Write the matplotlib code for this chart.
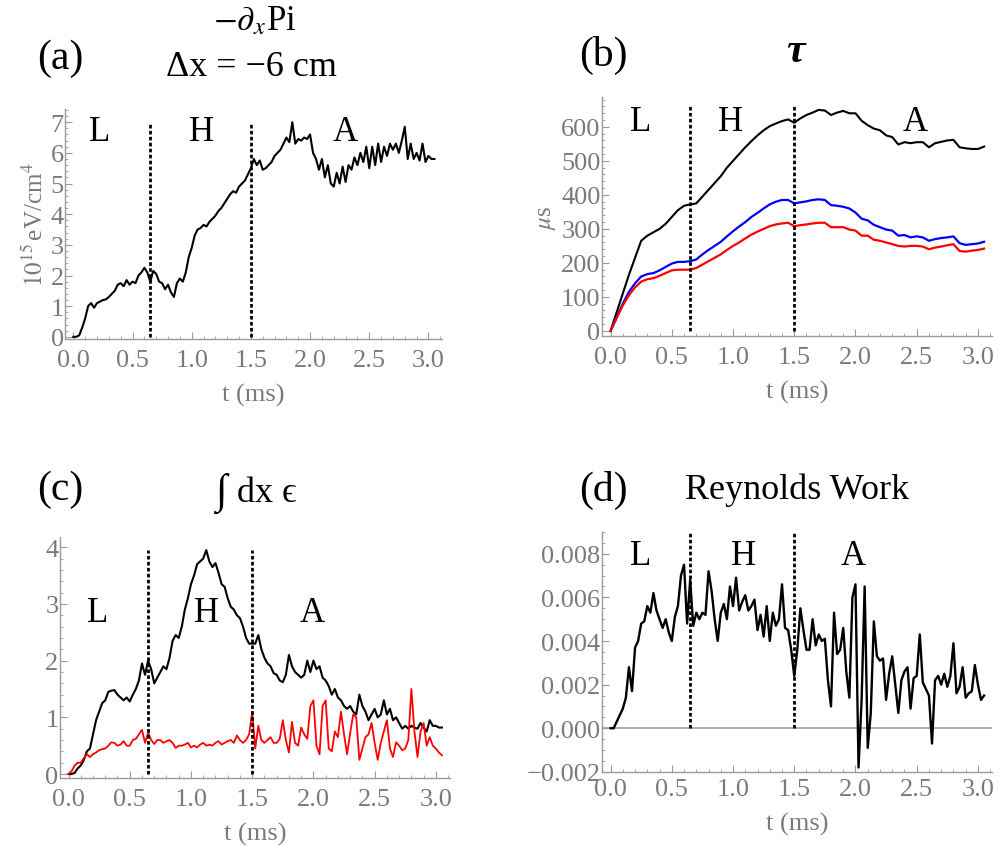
import numpy as np
import matplotlib
matplotlib.use('Agg')
import matplotlib.pyplot as plt
from matplotlib.ticker import MultipleLocator, FormatStrFormatter, FuncFormatter

plt.rcParams['font.family'] = ['Liberation Serif', 'DejaVu Serif']
plt.rcParams['mathtext.fontset'] = 'stix'

dt = 0.025
# L-H and H-A transition times (ms)
transitions = [0.65, 1.5]
regimes = ['L', 'H', 'A']

# (a) -d/dx Pi, 10^15 eV/cm^4
pi_grad = [0.0, 0.0, 0.05, 0.3, 0.6, 1.0, 1.1, 0.95, 1.1, 1.15, 1.2, 1.22, 1.3, 1.4, 1.5, 1.7,
           1.75, 1.65, 1.85, 1.7, 1.8, 1.75, 2.0, 2.1, 2.25, 2.1, 1.8, 2.15, 2.05, 1.8, 1.75, 1.55,
           1.7, 1.45, 1.3, 1.75, 1.9, 1.8, 2.1, 2.6, 2.9, 3.3, 3.5, 3.55, 3.65, 3.6, 3.75, 3.85,
           3.95, 4.1, 4.2, 4.35, 4.5, 4.65, 4.75, 4.7, 4.9, 5.0, 5.1, 5.3, 5.5, 5.8, 5.6, 5.75,
           5.45, 5.5, 5.6, 5.7, 5.9, 6.0, 6.1, 6.3, 6.5, 6.35, 7.0, 6.3, 6.45, 6.4, 6.5, 6.45,
           6.6, 6.0, 5.8, 5.45, 5.8, 5.2, 5.6, 5.0, 4.9, 5.35, 5.0, 5.55, 5.05, 5.6, 5.45, 5.85,
           5.6, 6.0, 5.7, 6.2, 5.5, 6.2, 5.6, 6.3, 5.7, 6.2, 5.9, 6.3, 6.1, 6.3, 6.0, 6.4,
           6.85, 5.8, 6.3, 5.8, 6.0, 5.75, 6.3, 5.7, 5.9, 5.8, 5.8]

# (b) tau, microseconds (sampled every 0.05 ms)
dt_tau = 0.05
tau_black = [0, 55, 110, 165, 215, 265, 280, 290, 300, 315, 335, 355, 368, 372, 375, 395,
             415, 435, 455, 480, 500, 520, 540, 558, 575, 590, 602, 610, 617, 622, 612, 625,
             635, 642, 650, 648, 635, 642, 647, 640, 640, 618, 605, 595, 590, 575, 570, 548,
             555, 552, 555, 555, 540, 552, 556, 560, 562, 540, 537, 535, 535, 542]
tau_blue = [0, 40, 80, 115, 140, 160, 167, 170, 178, 188, 198, 203, 203, 205, 210, 225,
            238, 250, 262, 278, 293, 307, 320, 335, 347, 360, 372, 380, 385, 385, 375, 378,
            381, 385, 387, 385, 370, 368, 365, 360, 348, 330, 325, 312, 305, 298, 295, 280,
            282, 275, 278, 275, 265, 270, 273, 275, 278, 258, 253, 255, 257, 262]
tau_red = [0, 38, 75, 105, 128, 145, 152, 155, 162, 170, 178, 180, 180, 180, 185, 195,
           205, 215, 225, 238, 250, 260, 272, 283, 292, 300, 308, 313, 316, 318, 308, 311,
           313, 316, 318, 318, 305, 305, 305, 298, 295, 280, 280, 268, 265, 260, 255, 250,
           248, 250, 250, 248, 240, 245, 248, 252, 255, 235, 233, 236, 238, 242]

# (c) integral dx epsilon
eps_black = [0.0, 0.0, 0.02, 0.1, 0.15, 0.25, 0.4, 0.45, 0.7, 0.95, 1.1, 1.25, 1.3, 1.45, 1.47, 1.48,
             1.4, 1.35, 1.3, 1.35, 1.28, 1.4, 1.5, 1.65, 1.95, 1.75, 2.0, 1.85, 1.6, 1.7, 1.8, 1.9,
             1.85, 2.05, 2.35, 2.45, 2.4, 2.6, 2.9, 3.1, 3.35, 3.5, 3.7, 3.75, 3.8, 3.95, 3.75, 3.65,
             3.72, 3.55, 3.35, 3.3, 3.1, 2.95, 2.9, 2.8, 2.75, 2.6, 2.4, 2.3, 2.3, 2.3, 2.45, 2.2,
             2.05, 1.95, 1.9, 1.78, 1.75, 1.65, 1.62, 1.75, 2.1, 1.9, 1.8, 1.75, 1.7, 1.75, 2.0, 1.8,
             2.0, 1.85, 1.9, 1.7, 1.65, 1.55, 1.4, 1.5, 1.35, 1.3, 1.2, 1.15, 1.2, 1.1, 1.05, 1.4,
             1.2, 1.1, 0.95, 1.05, 1.15, 1.0, 1.05, 1.3, 1.05, 1.15, 0.95, 1.0, 0.9, 0.8, 0.85, 0.8,
             0.85, 0.82, 0.8, 0.9, 0.82, 0.75, 0.95, 0.85, 0.85, 0.82, 0.82]
eps_red = [0.0, 0.05, 0.15, 0.2, 0.2, 0.28, 0.35, 0.3, 0.35, 0.38, 0.42, 0.44, 0.45, 0.5, 0.56, 0.55,
           0.5, 0.52, 0.58, 0.5, 0.5, 0.6, 0.62, 0.7, 0.78, 0.55, 0.73, 0.6, 0.53, 0.6, 0.6, 0.55,
           0.58, 0.6, 0.55, 0.46, 0.5, 0.5, 0.52, 0.55, 0.47, 0.5, 0.47, 0.52, 0.55, 0.5, 0.52, 0.5,
           0.55, 0.58, 0.52, 0.55, 0.58, 0.6, 0.55, 0.68, 0.6, 0.55, 0.6, 0.7, 1.1, 0.45, 0.85, 0.6,
           0.55, 0.6, 0.65, 0.55, 0.55, 0.62, 0.95, 0.6, 0.38, 0.92, 0.55, 0.5, 0.82, 0.7, 0.62, 1.2,
           1.3, 0.5, 0.35, 1.2, 1.3, 0.45, 0.4, 0.75, 0.65, 1.1, 0.7, 0.35, 0.72, 1.05, 1.0, 0.25,
           0.45, 0.65, 0.7, 0.9, 0.55, 0.25, 0.55, 0.75, 0.95, 0.45, 0.3, 0.56, 0.5, 0.42, 0.45, 0.6,
           1.5, 0.75, 0.3, 0.75, 0.9, 0.5, 0.65, 0.5, 0.45, 0.38, 0.33]

# (d) Reynolds work (x 1e-3)
reynolds = [0.0, 0.0, 0.3, 0.6, 0.9, 1.4, 2.8, 1.7, 3.7, 4.0, 4.8, 4.9, 5.6, 5.3, 6.2, 5.4,
            5.0, 4.6, 5.0, 4.4, 4.0, 5.1, 5.6, 7.0, 7.5, 4.8, 6.8, 4.7, 5.3, 5.0, 5.3, 5.2,
            7.2, 6.3, 5.0, 4.0, 5.3, 5.7, 5.0, 6.5, 5.6, 6.9, 5.4, 5.8, 6.1, 5.4, 5.6, 5.9,
            4.5, 5.2, 4.2, 5.6, 4.0, 5.3, 4.7, 5.0, 6.6, 4.6, 4.5, 3.6, 2.4, 3.6, 5.5, 4.5,
            3.6, 3.6, 5.0, 3.8, 4.3, 4.0, 4.1, 2.2, 1.0, 5.3, 3.4, 3.6, 4.6, 2.6, 1.4, 6.0,
            6.6, -1.8, 1.3, 6.5, -0.9, 0.7, 4.9, 3.3, 3.1, 3.2, 1.3, 2.5, 3.3, 2.0, 0.7, 2.2,
            2.6, 2.8, 0.9, 2.3, 2.4, 4.3, 2.1, 1.8, 1.5, -0.7, 2.2, 2.4, 2.0, 2.5, 1.9, 2.4,
            3.9, 1.6, 1.9, 2.8, 1.4, 1.6, 1.7, 2.9, 2.0, 1.3, 1.5]

GRAY = '#7a7a7a'
SPINE = '#9a9a9a'

fig = plt.figure(figsize=(9.99, 8.54), dpi=100)


def style_axis(ax, ylim, ymajor, yminor, xpad=7):
    ax.set_xlim(-0.07, 3.115)
    ax.set_ylim(*ylim)
    for s in ['top', 'right']:
        ax.spines[s].set_visible(False)
    for s in ['left', 'bottom']:
        ax.spines[s].set_color(SPINE)
        ax.spines[s].set_linewidth(1.0)
    ax.xaxis.set_major_locator(MultipleLocator(0.5))
    ax.xaxis.set_minor_locator(MultipleLocator(0.1))
    ax.yaxis.set_major_locator(MultipleLocator(ymajor))
    ax.yaxis.set_minor_locator(MultipleLocator(yminor))
    ax.xaxis.set_major_formatter(FormatStrFormatter('%.1f'))
    ax.tick_params(which='major', direction='in', length=5, width=0.8, color=SPINE,
                   labelcolor=GRAY, labelsize=19)
    ax.tick_params(which='minor', direction='in', length=2.5, width=0.6, color=SPINE)
    ax.tick_params(axis='y', which='major', pad=1)
    ax.tick_params(axis='x', which='major', pad=xpad)
    ax.set_xlabel('t (ms)', color=GRAY, fontsize=19, labelpad=9)


def mark_regimes(ax, pos, ytop):
    for tt in transitions:
        ax.plot([tt, tt], [0, ytop], color='black', lw=2.0,
                linestyle=(0, (1.3, 0.85)), zorder=3)
    for lab, (xx, yy) in zip(regimes, pos):
        ax.text(xx, yy, lab, fontsize=25, ha='center', va='center', color='black')


# ---- (a)
ax1 = fig.add_axes([0.0651, 0.6019, 0.3774, 0.2693])
t_a = np.arange(len(pi_grad)) * dt
ax1.plot(t_a, pi_grad, color='black', lw=1.5)
style_axis(ax1, (-0.07, 7.43), 1, 0.2)
ax1.yaxis.set_major_formatter(FormatStrFormatter('%d'))
mark_regimes(ax1, [(0.22, 6.7), (1.08, 6.7), (2.3, 6.7)], 7.0)
ax1.set_ylabel(r'$10^{15}\,$eV/cm$^4$', color=GRAY, fontsize=18, labelpad=2)

# ---- (b)
ax2 = fig.add_axes([0.6026, 0.6054, 0.3904, 0.2799])
t_b = np.arange(len(tau_black)) * dt_tau
ax2.plot(t_b, tau_black, color='black', lw=1.5)
ax2.plot(t_b, tau_blue, color='#0000ff', lw=1.6)
ax2.plot(t_b, tau_red, color='#ff0000', lw=1.6)
style_axis(ax2, (-15, 688), 100, 20)
mark_regimes(ax2, [(0.245, 617), (0.98, 617), (2.49, 617)], 660)
ax2.set_ylabel(r'$\mu$s', color=GRAY, fontsize=18, labelpad=2)

# ---- (c)
ax3 = fig.add_axes([0.0600, 0.0878, 0.3904, 0.2822])
ax3.plot(np.arange(len(eps_black)) * dt, eps_black, color='black', lw=1.5)
ax3.plot(np.arange(len(eps_red)) * dt, eps_red, color='#ff0000', lw=1.3)
style_axis(ax3, (-0.07, 4.18), 1, 0.2)
ax3.yaxis.set_major_formatter(FormatStrFormatter('%d'))
mark_regimes(ax3, [(0.235, 2.85), (1.13, 2.85), (1.99, 2.85)], 3.95)

# ---- (d)
ax4 = fig.add_axes([0.6026, 0.0945, 0.3904, 0.2814])
t_d = np.arange(len(reynolds)) * dt
ax4.axhline(0, color='#a0a0a0', lw=1.2, zorder=1)
ax4.plot(t_d, np.array(reynolds) * 1e-3, color='black', lw=1.7, zorder=2)
style_axis(ax4, (-0.00202, 0.009), 0.002, 0.0005, xpad=4)
ax4.yaxis.set_major_formatter(FuncFormatter(
    lambda v, p: ('%.3f' % v).replace('-', '\u2212')))
mark_regimes(ax4, [(0.245, 0.0079), (1.085, 0.0079), (1.98, 0.0079)], 0.009)

# ---- titles and panel labels (figure pixel coordinates)
W, H = 999, 854


def ftext(x, y, s, size, **kw):
    fig.text(x / W, 1 - y / H, s, fontsize=size, ha='center', va='center', **kw)


ftext(60, 59, '(a)', 30)
ftext(255, 22, r'$-\partial_x$Pi', 25)
ftext(252, 67, '\u0394x = \u22126 cm', 26)
ftext(603, 55, '(b)', 30)
ftext(795, 52, '\u03c4', 30, style='italic', weight='bold')
ftext(60, 490, '(c)', 30)
ftext(221, 493, '\u222b', 30)
ftext(267, 494, 'dx \u03f5', 26)
ftext(603, 490, '(d)', 30)
ftext(797, 490, 'Reynolds Work', 26)

fig.savefig('out.png', dpi=100)
